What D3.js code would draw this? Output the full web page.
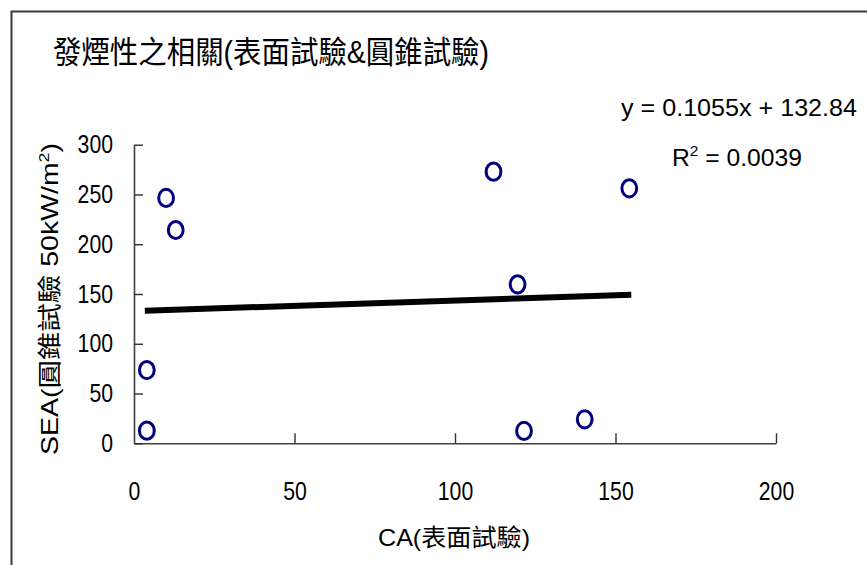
<!DOCTYPE html>
<html>
<head>
<meta charset="utf-8">
<script src="https://cdn.jsdelivr.net/npm/d3@7"></script>
<style>
  html, body { margin: 0; padding: 0; background: #fff; }
  svg { display: block; }
  text { font-family: "Liberation Sans", "Noto Sans CJK TC", Arial, sans-serif; fill: #000; }
</style>
</head>
<body>
<svg id="chart" width="867" height="565"></svg>
<script>
// ---- data ----
const caValues  = [4, 4, 10, 13, 112, 154.3, 119.5, 121.5, 140.4];
const seaValues = [12.7, 73.6, 246.5, 214.3, 272.9, 256.2, 159.7, 12.4, 24.1];
const xTicks = [0, 50, 100, 150, 200];
const yTicks = [0, 50, 100, 150, 200, 250, 300];
const trendSlope = 0.1055;
const trendIntercept = 132.84;
const titleText = "發煙性之相關(表面試驗&圓錐試驗)";
const xTitleText = "CA(表面試驗)";
const yTitleText = "SEA(圓錐試驗 50kW/m";
const eqText = "y = 0.1055x + 132.84";
const r2Value = "0.0039";

const svg = d3.select("#chart");
const x = d3.scaleLinear().domain([0, 200]).range([134, 776]);
const y = d3.scaleLinear().domain([0, 300]).range([443.3, 144.7]);

// outer border (extends past right/bottom edge)
svg.append("rect").attr("x", 11.5).attr("y", 11.5).attr("width", 900).attr("height", 600)
  .attr("fill", "none").attr("stroke", "#3a3a3a").attr("stroke-width", 2);

// title
svg.append("text").attr("x", 53).attr("y", 63).attr("font-size", 31)
  .attr("textLength", 436).attr("lengthAdjust", "spacingAndGlyphs").text(titleText);

// axes
const digitW = 11.8;
const xAxis = d3.axisBottom(x).tickValues(xTicks).tickSizeInner(-10).tickSizeOuter(0).tickPadding(39);
const gx = svg.append("g").attr("transform", `translate(0,${y(0)})`).call(xAxis);
const yAxis = d3.axisLeft(y).tickValues(yTicks).tickSizeInner(-9).tickSizeOuter(0).tickPadding(21);
const gy = svg.append("g").attr("transform", `translate(${x(0)},0)`).call(yAxis);
[gx, gy].forEach(g => {
  g.select(".domain").attr("stroke", "#404040").attr("stroke-width", 1.6);
  g.selectAll(".tick line").attr("stroke", "#303030").attr("stroke-width", 1.4);
  g.selectAll(".tick text").attr("font-size", 25).attr("font-family", null).attr("fill", "#000")
    .each(function(d) {
      const s = String(d);
      d3.select(this).attr("textLength", s.length * digitW).attr("lengthAdjust", "spacingAndGlyphs");
    });
  g.attr("font-family", null).attr("font-size", null);
});
gx.selectAll(".tick").filter(d => d === 0).select("line").remove();

// trend line
const xMin = d3.min(caValues), xMax = d3.max(caValues);
svg.append("line")
  .attr("x1", x(xMin) - 2).attr("y1", y(trendSlope * (xMin - 2 / 3.21) + trendIntercept))
  .attr("x2", x(xMax) + 2).attr("y2", y(trendSlope * (xMax + 2 / 3.21) + trendIntercept))
  .attr("stroke", "#000").attr("stroke-width", 6);

// points
svg.append("g").selectAll("ellipse").data(caValues.map((c, i) => [c, seaValues[i]])).join("ellipse")
  .attr("cx", d => x(d[0])).attr("cy", d => y(d[1]))
  .attr("rx", 7.4).attr("ry", 8.6)
  .attr("fill", "#fff").attr("stroke", "#000080").attr("stroke-width", 3);

// x title
svg.append("text").attr("x", 454).attr("y", 546).attr("font-size", 24).attr("text-anchor", "middle")
  .attr("textLength", 152).attr("lengthAdjust", "spacingAndGlyphs").text(xTitleText);

// y title
const yt = svg.append("text").attr("transform", "translate(58,299) rotate(-90)")
  .attr("font-size", 24).attr("text-anchor", "middle")
  .attr("textLength", 312).attr("lengthAdjust", "spacingAndGlyphs");
yt.append("tspan").text(yTitleText);
yt.append("tspan").attr("font-size", 15).attr("dy", -9).text("2");
yt.append("tspan").attr("dy", 9).text(")");

// equation
svg.append("text").attr("x", 621).attr("y", 116).attr("font-size", 24)
  .attr("textLength", 236).attr("lengthAdjust", "spacingAndGlyphs").text(eqText);
const r2 = svg.append("text").attr("x", 672).attr("y", 166).attr("font-size", 24)
  .attr("textLength", 130).attr("lengthAdjust", "spacingAndGlyphs");
r2.append("tspan").text("R");
r2.append("tspan").attr("font-size", 15).attr("dy", -10).text("2");
r2.append("tspan").attr("dy", 10).text(" = " + r2Value);
</script>
</body>
</html>
